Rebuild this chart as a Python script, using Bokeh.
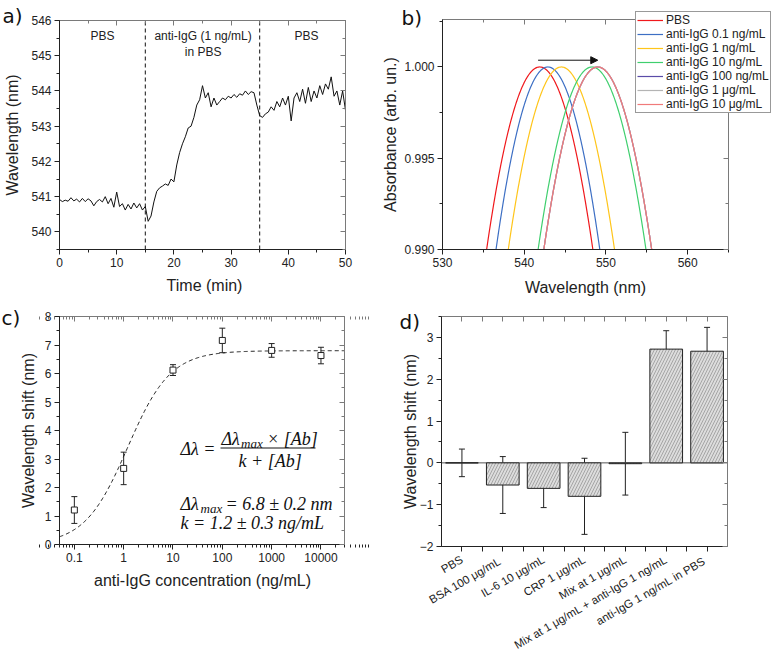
import numpy as np
from math import pi, log10
from bokeh.plotting import figure
from bokeh.layouts import column, row
from bokeh.models import (Range1d, LinearAxis, LogAxis, SingleIntervalTicker, FixedTicker,
                          Label, Whisker, TeeHead, ColumnDataSource, Legend, LegendItem,
                          Arrow, NormalHead, NumeralTickFormatter, CustomJSTickFormatter)
from bokeh.embed import file_html
from bokeh.resources import INLINE

# ---------------- data ----------------
# panel a: sensorgram
time_min = [i * 0.5 for i in range(101)]
wavelength_nm = [
    540.92, 540.86, 540.90, 540.87, 540.97, 540.88, 540.93, 540.85, 540.95, 540.86,
    540.94, 540.88, 540.74, 540.86, 540.92, 540.85, 541.00, 540.80, 540.95, 540.70,
    541.13, 540.72, 540.80, 540.62, 540.78, 540.65, 540.82, 540.68, 540.80, 540.62,
    540.72, 540.30, 540.45, 540.85, 541.15, 541.25, 541.30, 541.36, 541.32, 541.50,
    541.42, 541.90, 542.25, 542.50, 542.70, 542.95, 543.00, 543.25, 543.60, 543.75,
    544.15, 543.80, 543.95, 543.55, 543.80, 543.60, 543.70, 543.80, 543.75, 543.85,
    543.80, 543.90, 543.82, 543.92, 543.88, 544.00, 543.90, 543.98, 543.95, 543.60,
    543.30, 543.25, 543.35, 543.40, 543.55, 543.45, 543.70, 543.55, 543.80, 543.60,
    543.85, 543.15, 543.80, 543.95, 543.70, 544.05, 543.65, 544.10, 543.70, 544.00,
    543.80, 544.15, 543.90, 544.20, 544.05, 544.40, 543.85, 544.00, 543.60, 544.00,
    543.45]
switch_times = [15, 35]
phase_labels = ["PBS", "anti-IgG (1 ng/mL)", "in PBS", "PBS"]
a_xlim, a_ylim = (0, 50), (539.5, 546)

# panel b: absorbance peaks
spectra_labels = ["PBS", "anti-IgG 0.1 ng/mL", "anti-IgG 1 ng/mL", "anti-IgG 10 ng/mL",
                  "anti-IgG 100 ng/mL", "anti-IgG 1 μg/mL", "anti-IgG 10 μg/mL"]
peak_nm = [541.9, 542.9, 544.55, 548.3, 549.0, 549.0, 549.0]
halfwidth_at_0990 = [6.5, 6.35, 6.5, 6.6, 6.6, 6.6, 6.6]
spectra_colors = ["#f0181c", "#3d6fc4", "#ffc51a", "#3fcf6e", "#5a4ca8", "#b4b4b4", "#f07a7a"]
b_xlim, b_ylim = (530, 565), (0.990, 1.0026)

# panel c: calibration
conc_ngml = [0.1, 1, 10, 100, 1000, 10000]
conc_tick_labels = ["0.1", "1", "10", "100", "1000", "10000"]
shift_c = [1.21, 2.67, 6.12, 7.16, 6.81, 6.63]
shift_c_err = [0.47, 0.57, 0.19, 0.43, 0.24, 0.29]
fit_dl_max = 6.8
fit_k = 1.2
c_xlim, c_ylim = (0.05, 30000), (0, 8)

# panel d: selectivity
cats_d = ["PBS", "BSA  100 μg/mL", "IL-6 10 μg/mL", "CRP 1 μg/mL", "Mix at 1 μg/mL",
          "Mix at 1 μg/mL + anti-IgG 1 ng/mL", "anti-IgG 1 ng/mL  in PBS"]
shift_d = [0.0, -0.53, -0.61, -0.80, -0.02, 2.72, 2.67]
shift_d_err = [0.33, 0.68, 0.46, 0.91, 0.75, 0.44, 0.57]
d_xlim, d_ylim = (0.5, 7.5), (-2, 3.5)

# ---------------- styling helpers ----------------
FONT = "Liberation Sans"
DARK = "#222222"
GREY = "#7a7a7a"
blank = CustomJSTickFormatter(code="return ''")


def style_axis(ax):
    ax.axis_line_color = DARK
    ax.major_tick_line_color = DARK
    ax.minor_tick_line_color = DARK
    ax.major_tick_out = 5
    ax.major_tick_in = 0
    ax.minor_tick_out = 3
    ax.minor_tick_in = 0
    ax.major_label_text_font = FONT
    ax.major_label_text_font_size = "12px"
    ax.major_label_text_color = DARK
    ax.major_label_standoff = 3


def mirror(ax):
    ax.formatter = blank
    ax.axis_line_color = GREY
    ax.major_tick_line_color = GREY
    ax.minor_tick_line_color = GREY
    ax.major_tick_in = 5
    ax.major_tick_out = 0
    ax.minor_tick_in = 3
    ax.minor_tick_out = 0
    ax.major_label_standoff = 0
    ax.major_label_text_font_size = "1px"
    return ax


def make_panel(W, H, box, xlim, ylim, xticker, yticker, top_ticker, right_ticker, xlog=False):
    """Figure whose frame is the whole canvas; the axes box is drawn with fixed axes."""
    L, T, R, B = box
    x0, x1 = xlim
    y0, y1 = ylim
    if xlog:
        lx0, lx1 = log10(x0), log10(x1)
        s = (R - L) / (lx1 - lx0)
        xr = (10 ** (lx0 - L / s), 10 ** (lx1 + (W - R) / s))
    else:
        s = (R - L) / (x1 - x0)
        xr = (x0 - L / s, x1 + (W - R) / s)
    sy = (B - T) / (y1 - y0)
    yr = (y0 - (H - B) / sy, y1 + T / sy)
    p = figure(width=W, height=H, x_range=Range1d(*xr), y_range=Range1d(*yr),
               x_axis_type="log" if xlog else "linear", output_backend="svg",
               toolbar_location=None, min_border=0, min_border_left=0, min_border_right=0,
               min_border_top=0, min_border_bottom=0)
    p.xgrid.visible = False
    p.ygrid.visible = False
    p.outline_line_color = None
    p.background_fill_color = "white"
    p.border_fill_color = "white"
    xa, ya = p.below[0], p.left[0]
    style_axis(xa)
    style_axis(ya)
    xa.ticker = xticker
    ya.ticker = yticker
    xa.fixed_location = y0
    xa.bounds = (x0, x1)
    ya.fixed_location = x0
    ya.bounds = (y0, y1)
    top = mirror(LogAxis() if xlog else LinearAxis())
    top.ticker = top_ticker
    top.fixed_location = y1
    top.bounds = (x0, x1)
    p.add_layout(top, "above")
    right = mirror(LinearAxis())
    right.ticker = right_ticker
    right.fixed_location = x1
    right.bounds = (y0, y1)
    p.add_layout(right, "right")
    return p, xa, ya, top, H


def slabel(p, H, text, px, py, size="16px", font=FONT, angle=0.0, align="center",
           baseline="middle", style="normal", color=DARK):
    p.add_layout(Label(x=px, y=H - py, x_units="screen", y_units="screen", text=text,
                       text_font=font, text_font_size=size, text_font_style=style,
                       text_color=color, text_align=align, text_baseline=baseline,
                       angle=angle))


def panel_letter(p, H, text, px, baseline_py):
    slabel(p, H, text, px, baseline_py, size="20px", font="DejaVu Sans", align="left",
           baseline="alphabetic", color="#111111")


# ---------------- panel a ----------------
pa, pa_x, pa_y, pa_top, HA = make_panel(
    380, 305, (59, 20, 345, 249), a_xlim, a_ylim,
    SingleIntervalTicker(interval=10, num_minor_ticks=2),
    SingleIntervalTicker(interval=1, num_minor_ticks=2),
    SingleIntervalTicker(interval=10, num_minor_ticks=2),
    SingleIntervalTicker(interval=1, num_minor_ticks=2))
pa.line(time_min, wavelength_nm, line_color="#111111", line_width=1)
pa.segment(x0=switch_times, y0=[a_ylim[0]] * 2, x1=switch_times, y1=[a_ylim[1]] * 2,
           line_color="#111111", line_width=1, line_dash="4 3")
txt = dict(text_font=FONT, text_font_size="12px", text_color=DARK, text_align="center",
           text_baseline="middle")
pa.add_layout(Label(x=7.5, y=545.55, text=phase_labels[0], **txt))
pa.add_layout(Label(x=25.1, y=545.55, text=phase_labels[1], **txt))
pa.add_layout(Label(x=25.1, y=545.1, text=phase_labels[2], **txt))
pa.add_layout(Label(x=43.2, y=545.55, text=phase_labels[3], **txt))
slabel(pa, HA, "Time (min)", 204, 285)
slabel(pa, HA, "Wavelength (nm)", 12, 134.5, angle=pi / 2)
panel_letter(pa, HA, "a)", 2, 15)

# ---------------- panel b ----------------
pb, pb_x, pb_y, pb_top, HB = make_panel(
    395, 305, (62, 19, 348, 249), b_xlim, b_ylim,
    SingleIntervalTicker(interval=10, num_minor_ticks=2),
    SingleIntervalTicker(interval=0.005, num_minor_ticks=2),
    SingleIntervalTicker(interval=10, num_minor_ticks=2),
    SingleIntervalTicker(interval=0.005, num_minor_ticks=2))
pb_y.formatter = NumeralTickFormatter(format="0.000")
items = []
for lab, x0, hw, col in zip(spectra_labels, peak_nm, halfwidth_at_0990, spectra_colors):
    xs = np.linspace(x0 - hw, x0 + hw, 201)
    ys = 1.0 - (1.0 - b_ylim[0]) * ((xs - x0) / hw) ** 2
    r = pb.line(xs, ys, line_color=col, line_width=1.2)
    items.append(LegendItem(label=lab, renderers=[r]))
pb.add_layout(Legend(items=items, location=(635 - 380, HB - 113),
                     border_line_color="#333333", border_line_width=1,
                     background_fill_color="white", background_fill_alpha=1.0,
                     label_text_font=FONT, label_text_font_size="12px", label_text_color=DARK,
                     glyph_width=26, glyph_height=14, label_height=14, spacing=0, padding=1,
                     margin=0, label_standoff=3))
pb.add_layout(Arrow(end=NormalHead(size=7, fill_color="#111111", line_color="#111111"),
                    x_start=541.7, y_start=1.00037, x_end=549.0, y_end=1.00037,
                    line_color="#111111", line_width=1))
slabel(pb, HB, "Wavelength (nm)", 205, 287)
slabel(pb, HB, "Absorbance (arb. un.)", 10, 134, angle=pi / 2)
panel_letter(pb, HB, "b)", 21, 17)

# ---------------- panel c ----------------
minor_log = [d * m for d in [0.01] + conc_ngml for m in range(2, 10)]
pc, pc_x, pc_y, pc_top, HC = make_panel(
    380, 352, (59, 11, 344, 239), c_xlim, c_ylim,
    FixedTicker(ticks=conc_ngml, minor_ticks=minor_log),
    SingleIntervalTicker(interval=1, num_minor_ticks=2),
    FixedTicker(ticks=conc_ngml, minor_ticks=minor_log),
    SingleIntervalTicker(interval=1, num_minor_ticks=2), xlog=True)
pc_x.major_label_overrides = {c: t for c, t in zip(conc_ngml, conc_tick_labels)}
xf = np.logspace(log10(c_xlim[0]), log10(c_xlim[1]), 300)
pc.line(xf, fit_dl_max * xf / (fit_k + xf), line_color="#222222", line_width=1, line_dash="4 3")
src_c = ColumnDataSource(dict(x=conc_ngml, y=shift_c,
                              lo=[a - b for a, b in zip(shift_c, shift_c_err)],
                              hi=[a + b for a, b in zip(shift_c, shift_c_err)]))
pc.add_layout(Whisker(source=src_c, base="x", lower="lo", upper="hi", line_color="#222222",
                      line_width=1,
                      upper_head=TeeHead(size=6, line_color="#222222", line_width=1),
                      lower_head=TeeHead(size=6, line_color="#222222", line_width=1)))
pc.scatter("x", "y", source=src_c, marker="square", size=6, fill_color="white",
           line_color="#222222", line_width=1)
OY = 305  # page y of panel c/d canvases


def clab(text, px, py, size="18px"):
    slabel(pc, HC, text, px, py - OY, size=size, font="Liberation Serif", align="left",
           style="italic", color="#111111")


clab("Δλ =", 180, 448)
clab("Δλ", 221, 438)
clab("max", 240.5, 443, "13px")
clab("× [Ab]", 266.5, 438)
pc.add_layout(Arrow(end=None, x_start=220, y_start=HC - (447.5 - OY), x_end=315,
                    y_end=HC - (447.5 - OY), start_units="screen", end_units="screen",
                    line_color="#111111", line_width=1))
clab("k + [Ab]", 238, 460)
clab("Δλ", 180, 503)
clab("max", 200, 508, "13px")
clab("= 6.8 ± 0.2 nm", 225, 503)
clab("k = 1.2 ± 0.3 ng/mL", 180, 522)
slabel(pc, HC, "anti-IgG concentration (ng/mL)", 202, 580 - OY)
slabel(pc, HC, "Wavelength shift (nm)", 28, 430 - OY, angle=pi / 2)
panel_letter(pc, HC, "c)", 1, 317 - OY)

# ---------------- panel d ----------------
xpos = list(range(1, len(cats_d) + 1))
xminor = [i + 0.5 for i in range(1, len(cats_d))]
pd_, pd_x, pd_y, pd_top, HD = make_panel(
    395, 352, (61, 11, 347, 241), d_xlim, d_ylim,
    FixedTicker(ticks=xpos, minor_ticks=xminor),
    SingleIntervalTicker(interval=1, num_minor_ticks=2),
    FixedTicker(ticks=xpos, minor_ticks=xminor),
    SingleIntervalTicker(interval=1, num_minor_ticks=2))
pd_x.major_label_overrides = {i: c for i, c in zip(xpos, cats_d)}
pd_x.major_label_orientation = pi / 6
pd_x.major_label_standoff = 7
pd_x.major_label_text_font_size = "11.5px"
pd_x.minor_tick_out = 5
pd_top.minor_tick_in = 5
pd_.line(x=list(d_xlim), y=[0, 0], line_color="#555555", line_width=1)
pd_.vbar(x=xpos, top=shift_d, bottom=0, width=0.8, fill_color="#dcdcdc",
         line_color="#222222", line_width=1, hatch_pattern="/", hatch_color="#808080",
         hatch_scale=6, hatch_weight=0.6)
src_d = ColumnDataSource(dict(x=xpos, lo=[a - b for a, b in zip(shift_d, shift_d_err)],
                              hi=[a + b for a, b in zip(shift_d, shift_d_err)]))
pd_.add_layout(Whisker(source=src_d, base="x", lower="lo", upper="hi", line_color="#222222",
                       line_width=1,
                       upper_head=TeeHead(size=6, line_color="#222222", line_width=1),
                       lower_head=TeeHead(size=6, line_color="#222222", line_width=1)))
slabel(pd_, HD, "Wavelength shift (nm)", 30, 431 - OY, angle=pi / 2)
panel_letter(pd_, HD, "d)", 19, 321 - OY)

layout = column(row(pa, pb), row(pc, pd_))
open("out.html", "w").write(file_html(layout, INLINE))
